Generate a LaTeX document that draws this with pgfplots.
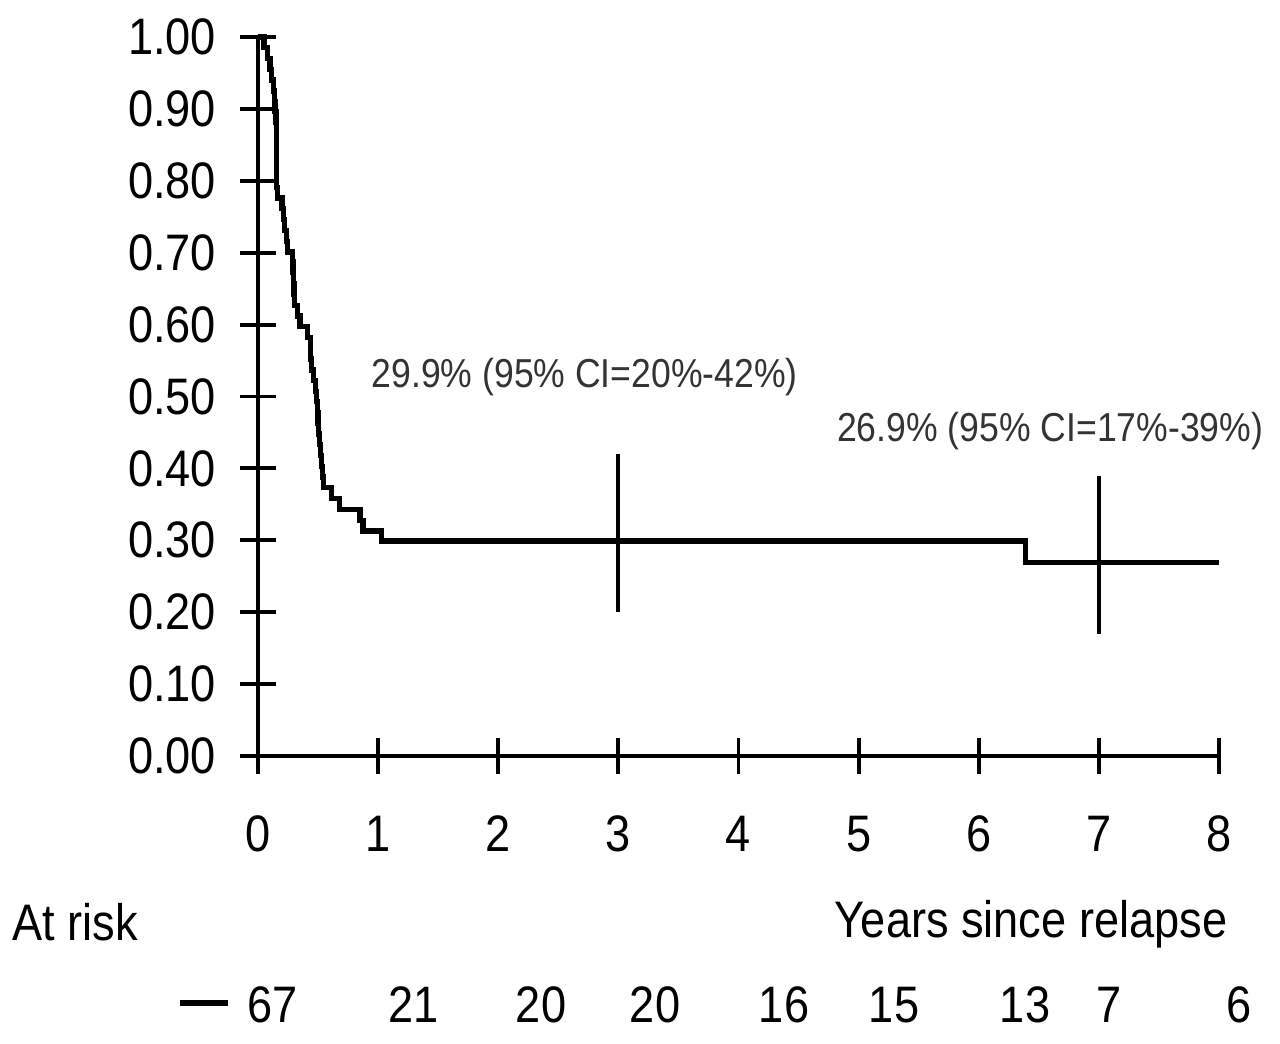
\documentclass[border=0pt]{standalone}
\usepackage{fontspec}
\setmainfont{Liberation Sans}[FakeStretch=0.88]
\usepackage{pgfplots}
\pgfplotsset{compat=1.18}
\begin{document}
\begin{tikzpicture}
\begin{axis}[
  scale only axis, width=9.61cm, height=7.19cm,
  xmin=0, xmax=8, ymin=0, ymax=1,
  axis lines=left, axis line style={-, line width=1.1pt},
  clip=false,
  xtick={0,1,...,8}, ytick={0,0.1,...,1.0},
  tick align=center, major tick length=0.35cm,
  tick style={line width=1.1pt, black},
  /pgf/number format/assume math mode=true,
  yticklabel style={/pgf/number format/fixed, /pgf/number format/fixed zerofill, /pgf/number format/precision=2},
  ticklabel style={font=\fontsize{14.6}{17}\selectfont},
  yticklabel style={xshift=-0.12cm},
  xticklabel style={yshift=-0.3cm},
]
\addplot[const plot, black, line width=1.5pt] coordinates {
(0,1.0) (0.05,0.985) (0.08,0.970) (0.10,0.955) (0.113,0.940) (0.127,0.925)
(0.135,0.910) (0.142,0.896) (0.150,0.881) (0.151,0.866) (0.152,0.851)
(0.153,0.836) (0.154,0.821) (0.155,0.806) (0.156,0.791) (0.160,0.776)
(0.200,0.761) (0.210,0.746) (0.220,0.731) (0.235,0.716) (0.245,0.701)
(0.290,0.687) (0.292,0.672) (0.294,0.657) (0.300,0.642) (0.306,0.627)
(0.330,0.612) (0.350,0.597) (0.410,0.582) (0.437,0.567) (0.440,0.552)
(0.445,0.537) (0.460,0.522) (0.480,0.507) (0.490,0.493) (0.495,0.478)
(0.500,0.463) (0.505,0.448) (0.510,0.433) (0.520,0.418) (0.530,0.403)
(0.535,0.388) (0.545,0.373) (0.610,0.358) (0.680,0.343) (0.850,0.328)
(0.875,0.313) (1.030,0.299) (6.390,0.269) (8.000,0.269)
};
\addplot[black, line width=1.1pt] coordinates {(3,0.20) (3,0.42)};
\addplot[black, line width=1.1pt] coordinates {(7,0.17) (7,0.39)};
\draw[line width=1.1pt] (axis cs:-0.15,0) -- (axis cs:0,0);
\node[anchor=base, text=black!80, font=\fontsize{11.5}{13}\selectfont] at (axis cs:2.72,0.512) {29.9\% (95\% CI=20\%-42\%)};
\node[anchor=base, text=black!80, font=\fontsize{11.5}{13}\selectfont] at (axis cs:6.594,0.437) {26.9\% (95\% CI=17\%-39\%)};
\end{axis}
% texts below the axis, 1px = 0.01cm, origin at axis lower-left (258,756)
\begin{scope}[every node/.style={font=\fontsize{14.6}{17}\selectfont, inner sep=0pt}]
\node[anchor=base west] at (-2.46,-1.84) {At risk};
\node[anchor=base east] at (9.70,-1.81) {Years since relapse};
\draw[line width=1.6pt] (-0.78,-2.47) -- (-0.30,-2.47);
\node[anchor=base] at (0.15,-2.66) {67};
\node[anchor=base] at (1.56,-2.66) {21};
\node[anchor=base] at (2.83,-2.66) {20};
\node[anchor=base] at (3.97,-2.66) {20};
\node[anchor=base] at (5.26,-2.66) {16};
\node[anchor=base] at (6.36,-2.66) {15};
\node[anchor=base] at (7.67,-2.66) {13};
\node[anchor=base] at (8.51,-2.66) {7};
\node[anchor=base] at (9.81,-2.66) {6};
\end{scope}
\pgfresetboundingbox
\path[use as bounding box] (-2.58,-2.87) rectangle (10.22,7.56);
\end{tikzpicture}
\end{document}
